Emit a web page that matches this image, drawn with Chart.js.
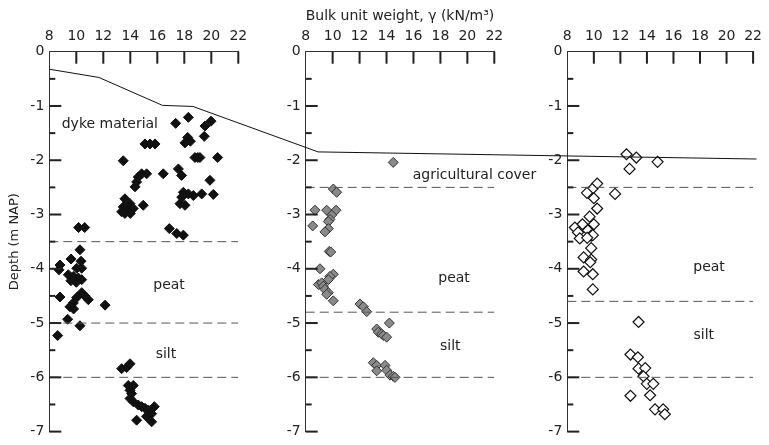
<!DOCTYPE html>
<html lang="en">
<head>
<meta charset="UTF-8">
<title>Bulk unit weight profiles</title>
<style>
  body { margin: 0; background: #fff; }
  #wrap { position: relative; width: 769px; height: 445px; }
  #wrap canvas { position: absolute; left: 0; top: 0; }
</style>
<script src="https://cdn.jsdelivr.net/npm/chart.js"></script>
</head>
<body>
<div id="wrap">
  <canvas id="dyke" width="769" height="445"></canvas>
  <canvas id="field" width="769" height="445"></canvas>
  <canvas id="hinter" width="769" height="445"></canvas>
  <canvas id="surface" width="769" height="445"></canvas>
</div>
<script>
// axis ticks
const weightTicks = [8, 10, 12, 14, 16, 18, 20, 22];
const depthTicks = [0, -1, -2, -3, -4, -5, -6, -7];
const depthMinor = [-0.5, -1.5, -2.5, -3.5, -4.5, -5.5, -6.5];

// left column: dyke material, peat, silt
const dykeWeight = [18.3, 17.36, 19.98, 19.53, 19.48, 18.25, 18.45, 18.05, 15.09, 15.46, 15.83, 13.48, 18.79, 19.0, 19.16, 20.47,
  14.84, 15.21, 14.59, 14.47, 14.35, 16.44, 17.56, 17.8, 19.9, 17.93, 18.3, 18.67, 17.81, 17.68, 18.05, 19.29, 20.15,
  13.6, 13.98, 13.48, 13.36, 13.85, 14.22, 14.96, 13.6, 14.0, 16.89, 17.44, 17.93,
  10.17, 10.62, 10.27, 9.61, 8.79, 8.72, 10.35, 10.03, 10.4, 9.41, 9.78, 10.15, 10.4, 9.6, 10.0, 8.79, 10.4, 10.64, 10.89,
  10.03, 9.78, 9.53, 9.8, 12.13, 9.36, 10.27, 8.62,
  13.36, 13.73, 13.98, 13.85, 14.22, 13.98, 14.1, 13.98, 14.22, 14.59, 14.84, 15.09, 15.33, 15.58, 15.78, 15.58, 14.47, 15.2];
const dykeDepth = [-1.21, -1.32, -1.28, -1.37, -1.56, -1.58, -1.65, -1.68, -1.7, -1.7, -1.7, -2.01, -1.95, -1.95, -1.95, -1.95,
  -2.25, -2.25, -2.31, -2.4, -2.49, -2.25, -2.16, -2.28, -2.37, -2.59, -2.62, -2.65, -2.68, -2.8, -2.83, -2.62, -2.63,
  -2.71, -2.8, -2.86, -2.95, -2.92, -2.89, -2.83, -2.98, -2.98, -3.26, -3.35, -3.38,
  -3.24, -3.24, -3.65, -3.82, -3.93, -4.02, -3.86, -3.99, -3.99, -4.11, -4.14, -4.17, -4.2, -4.22, -4.25, -4.52, -4.44, -4.5, -4.57,
  -4.53, -4.63, -4.7, -4.74, -4.67, -4.93, -5.05, -5.23,
  -5.84, -5.82, -5.75, -6.15, -6.15, -6.24, -6.3, -6.39, -6.45, -6.51, -6.54, -6.57, -6.6, -6.67, -6.54, -6.82, -6.79, -6.72];
const dykeLayers = [-3.5, -5, -6];

// middle column: agricultural cover, peat, silt
const fieldWeight = [14.5, 10.05, 10.3, 8.69, 9.56, 10.25, 9.93, 9.8, 9.68, 8.52, 9.68, 9.43, 9.75, 9.86,
  9.06, 10.05, 9.8, 9.68, 8.94, 9.19, 9.31, 9.43, 9.68, 9.56, 10.05, 12.03, 12.28, 12.53,
  14.21, 13.27, 13.39, 13.64, 13.76, 14.01, 13.02, 13.27, 13.27, 13.89, 14.01, 14.26, 14.5, 14.63];
const fieldDepth = [-2.04, -2.53, -2.59, -2.92, -2.92, -2.92, -3.01, -3.09, -3.13, -3.21, -3.26, -3.32, -3.68, -3.69,
  -4.0, -4.1, -4.14, -4.2, -4.29, -4.26, -4.32, -4.38, -4.44, -4.47, -4.59, -4.65, -4.7, -4.79,
  -5.0, -5.11, -5.17, -5.2, -5.23, -5.26, -5.73, -5.78, -5.88, -5.78, -5.87, -5.96, -5.98, -6.0];
const fieldLayers = [-2.5, -4.8, -6];

// right column: peat, silt
const hinterWeight = [12.46, 13.2, 14.8, 12.69, 10.25, 9.88, 9.48, 11.6, 10.0, 10.25, 9.68, 10.0, 9.14, 8.57,
  8.81, 9.55, 9.8, 8.94, 9.92, 9.5, 9.8, 9.23, 9.8, 9.73, 9.23, 9.92, 9.92,
  13.37, 12.76, 13.32, 13.37, 13.87, 13.74, 13.99, 14.48, 12.76, 14.24, 14.61, 15.22, 15.35];
const hinterDepth = [-1.89, -1.95, -2.03, -2.16, -2.43, -2.53, -2.6, -2.62, -2.7, -2.89, -3.04, -3.18, -3.18, -3.24,
  -3.33, -3.29, -3.39, -3.44, -3.38, -3.43, -3.62, -3.79, -3.83, -3.88, -4.05, -4.1, -4.38,
  -4.98, -5.58, -5.63, -5.84, -5.83, -5.98, -6.12, -6.12, -6.34, -6.33, -6.59, -6.59, -6.68];
const hinterLayers = [-2.5, -4.6, -6];

// ground surface across the section (0 = dyke crest side, 100 = hinterland end)
const surfaceDist = [0, 7, 16, 20.3, 38, 100];
const surfaceDepth = [-0.32, -0.47, -0.98, -1.0, -1.83, -1.96];

const FONT = '"DejaVu Sans", Verdana, sans-serif';
const axisColor = '#333';
const textColor = '#222';

// inward tick marks plus the layer names
const decor = {
  id: 'decor',
  afterDraw(chart, args, opts) {
    const ctx = chart.ctx;
    const xs = chart.scales.x, ys = chart.scales.y;
    const top = ys.getPixelForValue(0);
    const left = xs.getPixelForValue(8);
    ctx.save();
    ctx.fillStyle = '#222';
    weightTicks.slice(1).forEach(v => {
      ctx.fillRect(xs.getPixelForValue(v) - 1, top, 2, 12);
    });
    depthTicks.slice(1).forEach(d => {
      ctx.fillRect(left, ys.getPixelForValue(d) - 1, 12, 2);
    });
    depthMinor.forEach(d => {
      ctx.fillRect(left, ys.getPixelForValue(d) - 1, 6, 2);
    });
    ctx.fillStyle = textColor;
    ctx.font = '14px ' + FONT;
    ctx.textAlign = 'left';
    ctx.textBaseline = 'alphabetic';
    opts.layers.forEach(l => ctx.fillText(l.text, xs.getPixelForValue(l.x), ys.getPixelForValue(l.y)));
    ctx.restore();
  }
};

function panel(id, o) {
  const datasets = o.layers.map(b => ({
    type: 'line',
    data: [{ x: 8, y: b }, { x: 22, y: b }],
    borderColor: '#555',
    borderWidth: 1,
    borderDash: [9, 5],
    pointRadius: 0
  }));
  datasets.push({
    data: o.weight.map((w, i) => ({ x: w, y: o.depth[i] })),
    pointStyle: 'rectRot',
    pointRadius: o.radius,
    backgroundColor: o.fill,
    borderColor: o.stroke,
    borderWidth: o.bw
  });

  new Chart(document.getElementById(id), {
    type: 'scatter',
    data: { datasets },
    options: {
      responsive: false,
      animation: false,
      events: [],
      layout: { padding: o.padding },
      plugins: {
        legend: { display: false },
        tooltip: { enabled: false },
        decor: { layers: o.names }
      },
      scales: {
        x: {
          type: 'linear',
          position: 'top',
          min: 8,
          max: 22,
          afterBuildTicks: s => { s.ticks = weightTicks.map(v => ({ value: v })); },
          afterFit: s => { s.height = 51.7; },
          ticks: { color: textColor, font: { family: FONT, size: 14 }, padding: 7, maxRotation: 0 },
          grid: { display: false, drawTicks: false },
          border: { color: axisColor, width: 1 },
          title: {
            display: !!o.xTitle,
            text: o.xTitle || '',
            color: textColor,
            font: { family: FONT, size: 14 },
            padding: { top: 8, bottom: 0 }
          }
        },
        y: {
          min: -7,
          max: 0,
          afterBuildTicks: s => { s.ticks = depthTicks.map(v => ({ value: v })); },
          afterFit: s => { s.width = o.yWidth; },
          ticks: { color: textColor, font: { family: FONT, size: 14 }, padding: 5 },
          grid: { display: false, drawTicks: false },
          border: { color: axisColor, width: 1 },
          title: {
            display: !!o.yTitle,
            text: o.yTitle || '',
            color: textColor,
            font: { family: FONT, size: 13 },
            padding: { top: 3, bottom: 0 }
          }
        }
      }
    },
    plugins: [decor]
  });
}

panel('dyke', {
  weight: dykeWeight, depth: dykeDepth, layers: dykeLayers,
  fill: '#111', stroke: '#111', bw: 1, radius: 5,
  yTitle: 'Depth (m NAP)', yWidth: 45,
  padding: { left: 4.3, right: 530.7, top: 0, bottom: 10 },
  names: [
    { text: 'dyke material', x: 8.92, y: -1.4 },
    { text: 'peat', x: 15.7, y: -4.37 },
    { text: 'silt', x: 15.88, y: -5.65 }
  ]
});

panel('field', {
  weight: fieldWeight, depth: fieldDepth, layers: fieldLayers,
  fill: '#8a8a8a', stroke: '#333', bw: 1, radius: 5,
  xTitle: 'Bulk unit weight, γ (kN/m³)', yWidth: 40,
  padding: { left: 265.7, right: 274.7, top: 0, bottom: 10 },
  names: [
    { text: 'agricultural cover', x: 15.94, y: -2.34 },
    { text: 'peat', x: 17.84, y: -4.25 },
    { text: 'silt', x: 17.97, y: -5.5 }
  ]
});

panel('hinter', {
  weight: hinterWeight, depth: hinterDepth, layers: hinterLayers,
  fill: '#fff', stroke: '#111', bw: 1.2, radius: 5.5,
  yWidth: 40,
  padding: { left: 527.3, right: 12.3, top: 0, bottom: 10 },
  names: [
    { text: 'peat', x: 17.49, y: -4.05 },
    { text: 'silt', x: 17.51, y: -5.3 }
  ]
});

// ground surface line drawn over all three columns
new Chart(document.getElementById('surface'), {
  type: 'line',
  data: {
    datasets: [{
      data: surfaceDist.map((d, i) => ({ x: d, y: surfaceDepth[i] })),
      borderColor: '#111',
      borderWidth: 1,
      pointRadius: 0,
      tension: 0
    }]
  },
  options: {
    responsive: false,
    animation: false,
    events: [],
    layout: { padding: { left: 49.3, right: 12.3, top: 51.7, bottom: 10 } },
    plugins: { legend: { display: false }, tooltip: { enabled: false } },
    scales: {
      x: { type: 'linear', display: false, min: 0, max: 100 },
      y: { display: false, min: -7, max: 0 }
    }
  }
});
</script>
</body>
</html>
